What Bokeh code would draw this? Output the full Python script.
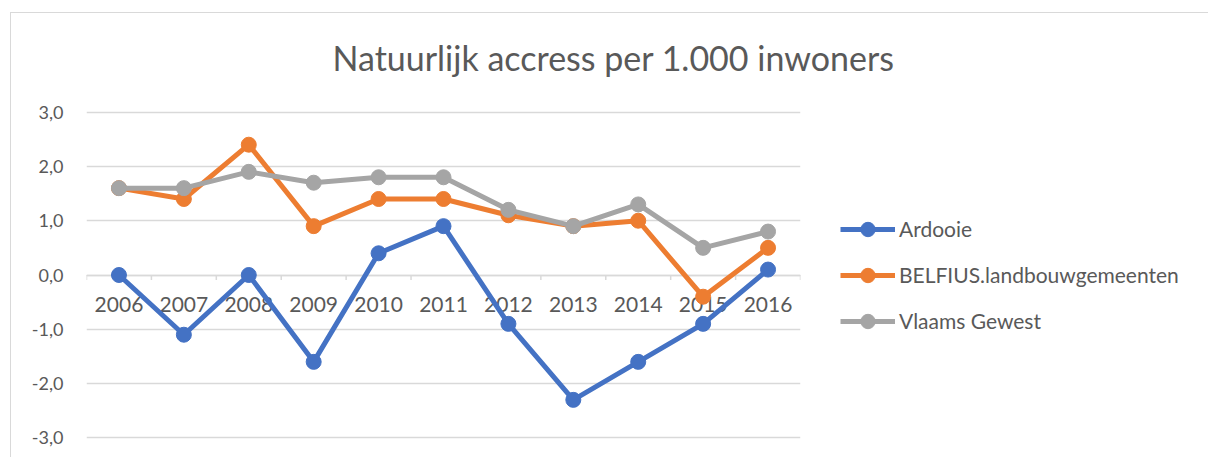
from bokeh.plotting import figure
from bokeh.models import (FactorRange, Range1d, FixedTicker, Legend, LegendItem, Title,
                          ColumnDataSource, CustomJSTickFormatter)
from bokeh.transform import dodge
from bokeh.embed import file_html
from bokeh.resources import INLINE

# ---- data ----
years = ["2006", "2007", "2008", "2009", "2010", "2011", "2012", "2013", "2014", "2015", "2016"]
ardooie = [0.0, -1.1, 0.0, -1.6, 0.4, 0.9, -0.9, -2.3, -1.6, -0.9, 0.1]
belfius = [1.6, 1.4, 2.4, 0.9, 1.4, 1.4, 1.1, 0.9, 1.0, -0.4, 0.5]
vlaams = [1.6, 1.6, 1.9, 1.7, 1.8, 1.8, 1.2, 0.9, 1.3, 0.5, 0.8]
series_names = ["Ardooie", "BELFIUS.landbouwgemeenten", "Vlaams Gewest"]
y_ticks = [-3, -2, -1, 0, 1, 2, 3]
title_text = "Natuurlijk accress per 1.000 inwoners"

colors = ["#4472C4", "#ED7D31", "#A5A5A5"]
TEXT = "#595959"
GRID = "#d9d9d9"
FONT = "Lato"

p = figure(frame_width=714, frame_height=329, x_range=FactorRange(*years),
           y_range=Range1d(-3.03, 3.03),
           output_backend="svg", toolbar_location=None,
           min_border_left=86, min_border_right=400, min_border_top=110, min_border_bottom=18)
p.outline_line_color = None
p.background_fill_color = "white"
p.border_fill_color = None
p.styles = {
    "background": ("linear-gradient(#d9d9d9, #d9d9d9) 10px 12px / 1px 100% no-repeat, "
                   "linear-gradient(#d9d9d9, #d9d9d9) 10px 12px / 100% 1px no-repeat, white"),
}

p.xgrid.grid_line_color = None
p.ygrid.grid_line_color = GRID
p.ygrid.grid_line_width = 1.5
p.ygrid.ticker = FixedTicker(ticks=y_ticks)

# y axis
p.yaxis.ticker = FixedTicker(ticks=y_ticks)
p.yaxis.formatter = CustomJSTickFormatter(code="return tick.toFixed(1).replace('.', ',');")
p.yaxis.axis_line_color = None
p.yaxis.major_tick_line_color = None
p.yaxis.major_tick_out = 0
p.yaxis.minor_tick_line_color = None
p.yaxis.major_label_standoff = 23
p.yaxis.major_label_text_font_size = "18px"
p.yaxis.major_label_text_font = FONT
p.yaxis.major_label_text_color = TEXT

# x axis crossing at zero
p.xaxis.fixed_location = 0
p.xaxis.axis_line_color = GRID
p.xaxis.axis_line_width = 1.5
p.xaxis.major_tick_line_color = None
p.xaxis.major_tick_out = 0
p.xaxis.major_label_standoff = 22
p.xaxis.major_label_text_font_size = "21px"
p.xaxis.major_label_text_font = FONT
p.xaxis.major_label_text_color = TEXT
p.xaxis.level = "underlay"

# tick marks between categories
src = ColumnDataSource(dict(year=years))
last = ColumnDataSource(dict(year=years[-1:]))
p.segment(x0=dodge("year", -0.5, range=p.x_range), y0=0,
          x1=dodge("year", -0.5, range=p.x_range), y1=-0.09,
          source=src, line_color=GRID, line_width=1.5)
p.segment(x0=dodge("year", 0.5, range=p.x_range), y0=0,
          x1=dodge("year", 0.5, range=p.x_range), y1=-0.09,
          source=last, line_color=GRID, line_width=1.5)

items = []
for name, vals, color in zip(series_names, [ardooie, belfius, vlaams], colors):
    r1 = p.line(years, vals, line_color=color, line_width=5)
    r2 = p.scatter(years, vals, size=15, fill_color=color, line_color=color)
    items.append(LegendItem(label=name, renderers=[r1, r2]))

legend = Legend(items=items, location="center_left", border_line_color=None,
                background_fill_alpha=0, padding=0, margin=40, spacing=10,
                glyph_width=55, glyph_height=36, label_height=24, label_standoff=4,
                label_text_font_size="21px", label_text_font=FONT, label_text_color=TEXT)
p.add_layout(legend, "right")

title = Title(text=title_text, align="left", offset=246, standoff=63, vertical_align="middle",
              text_font_size="34px", text_font=FONT, text_color=TEXT,
              text_font_style="normal")
p.add_layout(title, "above")

open("out.html", "w").write(file_html(p, INLINE))
